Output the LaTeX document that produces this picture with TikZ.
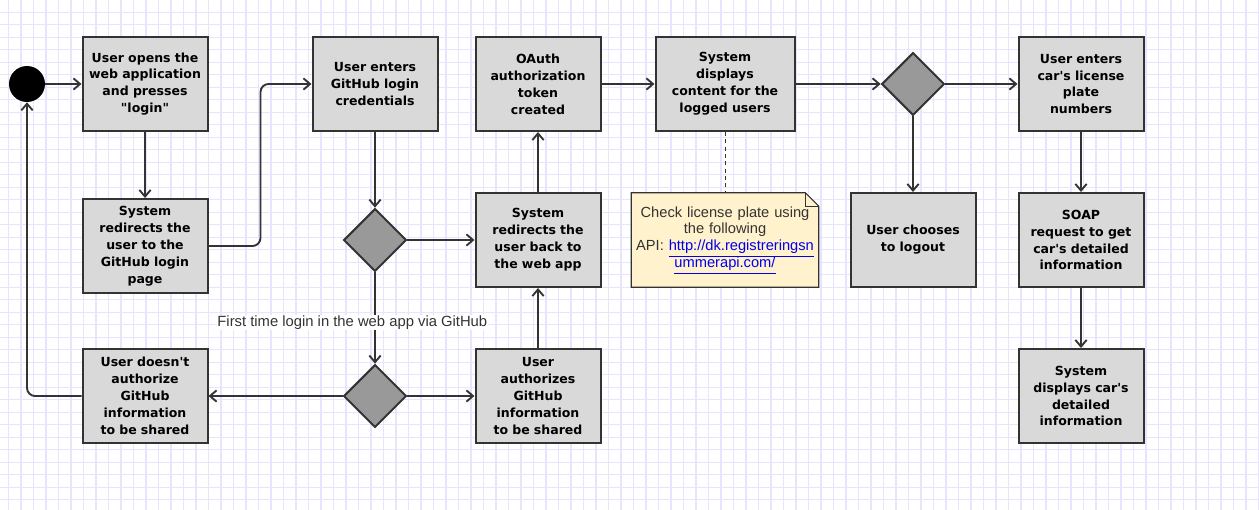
\documentclass[tikz,border=0pt]{standalone}
\usepackage{fontspec}
\setmainfont{Liberation Sans}
\newfontfamily\boxfont{DejaVu Sans}
\usepackage{xcolor}
\usepackage{tikz}
\usetikzlibrary{shapes.geometric, arrows.meta, positioning, calc, backgrounds}

\definecolor{gridcol}{RGB}{230,228,255}
\definecolor{boxfill}{RGB}{217,217,217}
\definecolor{boxline}{RGB}{51,51,51}
\definecolor{decfill}{RGB}{153,153,153}
\definecolor{notefill}{RGB}{255,242,204}
\definecolor{linkblue}{RGB}{0,0,238}
\newcommand{\apos}{\textquotesingle}

\begin{document}
\begin{tikzpicture}[x=0.75pt, y=-0.75pt,
		actbox/.style={draw=boxline, fill=boxfill, line width=1.5pt, minimum width=93.75pt, minimum height=70.5pt, text width=90pt, inner sep=1pt, align=center, font=\boxfont\bfseries\fontsize{9.4}{12.7}\selectfont},
		decision/.style={diamond, draw=boxline, fill=decfill, line width=1.5pt, minimum width=47pt, minimum height=47pt, inner sep=0pt},
		startdot/.style={circle, fill=black, minimum size=27pt, inner sep=0pt},
		flow/.style={draw=boxline, line width=1.4pt, -{Straight Barb[length=5pt, width=8.5pt]}},
		notebox/.style={minimum width=140.25pt, minimum height=70.5pt, text width=138pt, inner sep=1pt, align=center, text=boxline, font=\fontsize{11}{12.7}\selectfont},
		lbl/.style={fill=white, inner sep=0.3pt, text=boxline, font=\fontsize{11.1}{12}\selectfont}]
	\useasboundingbox (0,0) rectangle (1259,510);
	\begin{pgfonlayer}{background}
		\fill [white] (0,0) rectangle (1259,510);
		\foreach \k in {0,...,100}
			\draw [gridcol, line width=0.8pt] ({8.5+12.5*\k},0) -- ({8.5+12.5*\k},510);
		\foreach \k in {1,...,40}
			\draw [gridcol, line width=0.8pt] (0,{-0.2+12.5*\k}) -- (1259,{-0.2+12.5*\k});
	\end{pgfonlayer}

	\node [startdot] (start) at (27,84) {};
	\node [actbox] (open) at (145,84) {User opens the\\web application\\and presses\\"login"};
	\node [actbox] (redir) at (145,246) {System\\redirects the\\user to the\\GitHub login\\page};
	\node [actbox] (creds) at (375,84) {User enters\\GitHub login\\credentials};
	\node [decision] (chk) at (375,240) {};
	\node [actbox] (back) at (538,240) {System\\redirects the\\user back to\\the web app};
	\node [actbox] (token) at (538,84) {OAuth\\authorization\\token\\created};
	\node [actbox, minimum width=104.25pt, text width=100pt] (content) at (725,84) {System\\displays\\content for the\\logged users};
	\node [decision] (choice) at (913,84) {};
	\node [actbox] (plate) at (1081,84) {User enters\\car\apos s license\\plate\\numbers};
	\node [actbox] (logout) at (913,240) {User chooses\\to logout};
	\node [actbox] (soap) at (1081,240) {SOAP\\request to get\\car\apos s detailed\\information};
	\node [actbox] (show) at (1081,396) {System\\displays car\apos s\\detailed\\information};
	\node [decision] (auth) at (375,396) {};
	\node [actbox] (deny) at (145,396) {User doesn\apos t\\authorize\\GitHub\\information\\to be shared};
	\node [actbox] (allow) at (538,396) {User\\authorizes\\GitHub\\information\\to be shared};
	\node [notebox] (api) at (725,240) {Check license plate using\\the following\\API: \textcolor{linkblue}{\underline{http://dk.registreringsn}}\\\textcolor{linkblue}{\underline{ummerapi.com/}}};
	\begin{pgfonlayer}{background}
		\draw [fill=notefill, draw=boxline, line width=0.8pt] (api.north west) -- ([xshift=-10pt]api.north east) -- ([yshift=-10pt]api.north east) -- (api.south east) -- (api.south west) -- cycle;
		\draw [draw=boxline, line width=0.8pt] ([xshift=-10pt]api.north east) -- ([xshift=-10pt, yshift=-10pt]api.north east) -- ([yshift=-10pt]api.north east);
	\end{pgfonlayer}

	\draw [flow] (start) -- (open);
	\draw [flow] (open) -- (redir);
	\draw [flow, rounded corners=6pt] (redir.east) -- ++(52,0) |- (creds.west);
	\draw [flow] (creds) -- (chk);
	\draw [flow] (chk) -- (back);
	\draw [flow] (chk) -- node [lbl, pos=0.55, xshift=-17pt] (firstlbl) {First time login in the web app via GitHub} (auth);
	\draw [flow] (auth) -- (deny);
	\draw [flow] (auth) -- (allow);
	\draw [flow] (allow) -- (back);
	\draw [flow] (back) -- (token);
	\draw [flow] (token) -- (content);
	\draw [flow] (content) -- (choice);
	\draw [flow] (choice) -- (plate);
	\draw [flow] (choice) -- (logout);
	\draw [flow] (plate) -- (soap);
	\draw [flow] (soap) -- (show);
	\draw [flow, rounded corners=6pt] (deny.west) -| (start.south);
	\draw [boxline, line width=0.75pt, dash pattern=on 3pt off 2.5pt, xshift=0.375pt] (content) -- (api);
\end{tikzpicture}
\end{document}
